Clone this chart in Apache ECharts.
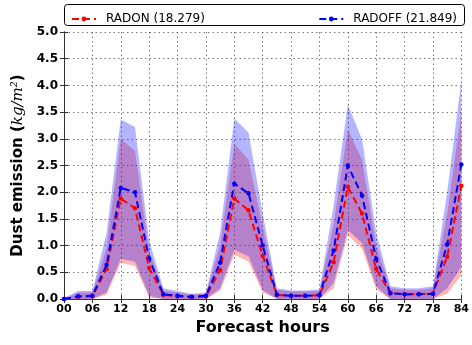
<!DOCTYPE html>
<html>
<head>
<meta charset="utf-8">
<script src="https://cdn.jsdelivr.net/npm/echarts@6/dist/echarts.min.js"></script>
<style>
html,body{margin:0;padding:0;background:#fff;}
#chart{width:472px;height:345px;}
</style>
</head>
<body>
<div id="chart"></div>
<script>
// Forecast hours (3-hourly)
const hours = [0,3,6,9,12,15,18,21,24,27,30,33,36,39,42,45,48,51,54,57,60,63,66,69,72,75,78,81,84];
const xTicks = ['00','06','12','18','24','30','36','42','48','54','60','66','72','78','84'];
const yTicks = ['0.0','0.5','1.0','1.5','2.0','2.5','3.0','3.5','4.0','4.5','5.0'];

const radonName = 'RADON (18.279)';
const radoffName = 'RADOFF (21.849)';

const radonMean = [0.0,0.04,0.05,0.56,1.88,1.70,0.58,0.08,0.05,0.03,0.05,0.54,1.88,1.66,0.81,0.08,0.06,0.06,0.07,0.69,2.10,1.60,0.56,0.11,0.09,0.09,0.10,0.79,2.12];
const radoffMean = [0.0,0.05,0.06,0.64,2.08,2.00,0.76,0.09,0.06,0.04,0.06,0.68,2.16,1.98,1.00,0.08,0.06,0.06,0.075,0.91,2.50,1.94,0.75,0.11,0.09,0.09,0.10,1.02,2.52];

const radonUpper = [0.0,0.12,0.12,0.95,3.00,2.77,0.90,0.16,0.12,0.08,0.10,1.00,2.91,2.61,1.36,0.17,0.14,0.14,0.15,1.40,3.18,2.61,1.00,0.20,0.17,0.17,0.20,1.60,3.50];
const radonLower = [0.0,0.0,0.0,0.08,0.68,0.62,0.03,0.0,0.0,0.0,0.0,0.15,0.83,0.70,0.12,0.0,0.0,0.0,0.0,0.20,1.20,0.94,0.18,0.0,0.0,0.0,0.0,0.10,0.45];
const radoffUpper = [0.02,0.15,0.15,1.24,3.36,3.22,1.10,0.20,0.15,0.10,0.12,1.24,3.38,3.12,1.60,0.20,0.16,0.16,0.18,1.75,3.64,2.99,1.24,0.24,0.20,0.20,0.24,2.00,4.10];
const radoffLower = [0.0,0.0,0.0,0.12,0.75,0.70,0.06,0.0,0.0,0.0,0.0,0.20,0.92,0.80,0.17,0.0,0.0,0.0,0.0,0.30,1.29,1.05,0.24,0.0,0.0,0.0,0.0,0.20,0.60];

const pairs = (ys) => hours.map((h, i) => [h, ys[i]]);

const FONT = 'DejaVu Sans';
const chart = echarts.init(document.getElementById('chart'), null, {renderer: 'canvas'});

function band(name, lower, upper, color, z) {
  return {
    name: name, type: 'custom', z: z, silent: true,
    data: hours.map((h, i) => [h, lower[i], upper[i]]),
    encode: {x: 0, y: [1, 2]},
    renderItem: function (params, api) {
      if (params.dataIndex !== 0) return null;
      const pts = [];
      for (let i = 0; i < hours.length; i++) pts.push(api.coord([hours[i], upper[i]]));
      for (let i = hours.length - 1; i >= 0; i--) pts.push(api.coord([hours[i], lower[i]]));
      return {
        type: 'polygon', shape: {points: pts},
        style: {fill: color, stroke: null}
      };
    }
  };
}

const option = {
  animation: false,
  textStyle: {fontFamily: FONT},
  grid: {left: 64, right: 8, top: 32, bottom: 46},
  legend: [
    {
      data: [radonName], left: 66, top: 8, itemWidth: 24, itemHeight: 6,
      textStyle: {fontFamily: FONT, fontSize: 12, color: '#000', padding: [0, 0, 0, 5]}
    },
    {
      data: [radoffName], right: 10, top: 8, itemWidth: 24, itemHeight: 6,
      textStyle: {fontFamily: FONT, fontSize: 12, color: '#000', padding: [0, 0, 0, 5]}
    }
  ],
  graphic: [{
    type: 'rect', left: 64, top: 4, z: -1,
    shape: {width: 400, height: 21, r: 3},
    style: {fill: '#fff', stroke: '#000', lineWidth: 1}
  }],
  xAxis: [
    {
      type: 'value', min: 0, max: 84, interval: 6,
      name: 'Forecast hours', nameLocation: 'middle', nameGap: 20,
      nameTextStyle: {fontFamily: FONT, fontWeight: 'bold', fontSize: 16, color: '#000'},
      axisLine: {show: true, lineStyle: {color: '#333', width: 1}},
      axisTick: {show: true, inside: true, length: 4, lineStyle: {color: '#333'}},
      axisLabel: {
        fontFamily: FONT, fontWeight: 'bold', fontSize: 11, color: '#000', margin: 5,
        formatter: (v) => xTicks[Math.round(v / 6)]
      },
      splitLine: {show: true, lineStyle: {type: [1.5, 3], color: '#555', width: 0.8}}
    },
    {
      type: 'value', min: 0, max: 84, interval: 6, position: 'top',
      axisLine: {show: true, lineStyle: {color: '#333', width: 1}},
      axisTick: {show: true, inside: true, length: 4, lineStyle: {color: '#333'}},
      axisLabel: {show: false}, splitLine: {show: false}
    }
  ],
  yAxis: [
    {
      type: 'value', min: 0, max: 5, interval: 0.5,
      name: '{b|Dust emission (}{i|kg/m²}{b|)}', nameLocation: 'middle', nameGap: 34,
      nameTextStyle: {
        fontFamily: FONT, fontSize: 15, color: '#000',
        rich: {
          b: {fontFamily: FONT, fontWeight: 'bold', fontSize: 15, color: '#000'},
          i: {fontFamily: 'DejaVu Serif', fontStyle: 'italic', fontSize: 15, color: '#000'}
        }
      },
      axisLine: {show: true, lineStyle: {color: '#333', width: 1}},
      axisTick: {show: true, inside: true, length: 4, lineStyle: {color: '#333'}},
      axisLabel: {
        fontFamily: FONT, fontWeight: 'bold', fontSize: 12, color: '#000', margin: 6,
        formatter: (v) => yTicks[Math.round(v / 0.5)]
      },
      splitLine: {show: true, lineStyle: {type: [1.5, 3], color: '#555', width: 0.8}}
    },
    {
      type: 'value', min: 0, max: 5, interval: 0.5, position: 'right',
      axisLine: {show: true, lineStyle: {color: '#333', width: 1}},
      axisTick: {show: true, inside: true, length: 4, lineStyle: {color: '#333'}},
      axisLabel: {show: false}, splitLine: {show: false}
    }
  ],
  series: [
    band('radonBand', radonLower, radonUpper, 'rgba(255,0,0,0.29)', 1),
    band('radoffBand', radoffLower, radoffUpper, 'rgba(0,0,255,0.29)', 2),
    {
      name: radonName, type: 'line', data: pairs(radonMean), z: 3,
      symbol: 'circle', symbolSize: 4.5,
      itemStyle: {color: '#ff0000'},
      lineStyle: {color: '#ff0000', width: 2, type: [7, 4]}
    },
    {
      name: radoffName, type: 'line', data: pairs(radoffMean), z: 4,
      symbol: 'circle', symbolSize: 4.5,
      itemStyle: {color: '#0000ff'},
      lineStyle: {color: '#0000ff', width: 2, type: [7, 4]}
    }
  ]
};
chart.setOption(option);
</script>
</body>
</html>
